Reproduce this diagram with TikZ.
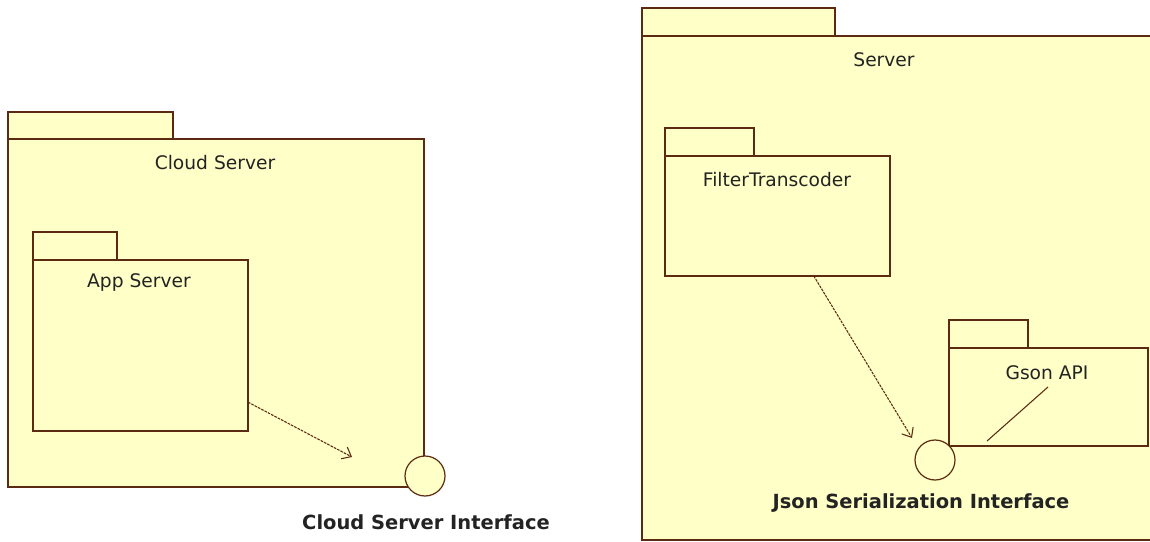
\documentclass[tikz,border=0pt]{standalone}
\usepackage{fontspec}
\setmainfont{DejaVu Sans}
\usetikzlibrary{arrows.meta,fit}
\definecolor{pkgfill}{RGB}{255,255,200}
\definecolor{pkgline}{RGB}{92,42,18}
\definecolor{txt}{RGB}{35,35,35}
\tikzset{
  pkg/.style={draw=pkgline, fill=pkgfill, line width=1.4pt, inner sep=0pt, outer sep=0pt, rectangle},
  lbl/.style={text=txt, font=\fontsize{14}{16}\selectfont, inner sep=0pt},
  blbl/.style={text=txt, font=\fontsize{14.6}{16}\selectfont\bfseries, inner sep=0pt},
  iface/.style={circle, draw=pkgline, fill=pkgfill, line width=0.9pt, minimum size=30pt, inner sep=0pt},
  dep/.style={draw=pkgline, line width=0.8pt, dash pattern=on 2pt off 0.8pt, -{Straight Barb[length=6pt,width=10pt]}},
  plainline/.style={draw=pkgline, line width=0.8pt}
}
\begin{document}
\begin{tikzpicture}[x=0.75pt,y=-0.75pt]
\useasboundingbox (0,0) rectangle (1150,542);
\clip (0,0) rectangle (1150,542);
\fill[white] (0,0) rectangle (1150,542);

% ---- Cloud Server package ----
\node[pkg, fit={(8,112)(173,139)}] (cstab) {};
\node[pkg, fit={(8,139)(424,487)}] (cloud) {};
\node[lbl] (cloudlbl) at (215,163) {Cloud Server};

\node[pkg, fit={(33,232)(117,260)}] (apptab) {};
\node[pkg, fit={(33,260)(248,431)}] (app) {};
\node[lbl] (applbl) at (139,283) {App Server};

\node[iface] (csi) at (425,476) {};
\node[blbl] (csilbl) at (426,522) {Cloud Server Interface};
\coordinate (csiend) at (352,457);
\draw[dep] (app) -- (csiend);

% ---- Server package ----
\node[pkg, fit={(642,8)(835,36)}] (srvtab) {};
\node[pkg, fit={(642,36)(1175,540)}] (server) {};
\node[lbl] (serverlbl) at (884,60) {Server};

\node[pkg, fit={(665,128)(754,156)}] (fttab) {};
\node[pkg, fit={(665,156)(890,276)}] (ft) {};
\node[lbl] (ftlbl) at (777,180) {FilterTranscoder};

\node[pkg, fit={(949,320)(1028,348)}] (gsontab) {};
\node[pkg, fit={(949,348)(1148,446)}] (gson) {};
\node[lbl] (gsonlbl) at (1047,373) {Gson API};
\coordinate (g1) at (1048,387);
\coordinate (g2) at (987,441);
\draw[plainline] (g1) -- (g2);

\node[iface] (jsi) at (935,460) {};
\node[blbl] (jsilbl) at (921,503) {Json Serialization Interface};
\coordinate (jsiend) at (912,438);
\draw[dep] (ft) -- (jsiend);
\end{tikzpicture}
\end{document}
